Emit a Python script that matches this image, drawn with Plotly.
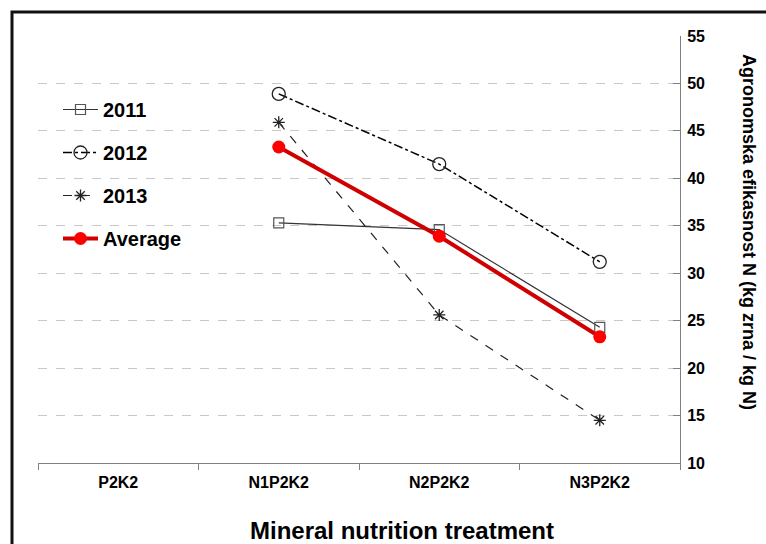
import plotly.graph_objects as go

categories = ["P2K2", "N1P2K2", "N2P2K2", "N3P2K2"]
y2011 = [None, 35.3, 34.6, 24.3]
y2012 = [None, 48.9, 41.5, 31.2]
y2013 = [None, 45.9, 25.6, 14.5]
avg = [None, 43.3, 33.9, 23.3]
y_ticks = [10, 15, 20, 25, 30, 35, 40, 45, 50, 55]

FONT = "Liberation Sans, Arial, sans-serif"

fig = go.Figure()
fig.add_trace(go.Scatter(
    x=categories, y=y2011, name="2011", mode="lines+markers", legendgroup="a",
    line=dict(color="#333333", width=1.2),
    marker=dict(symbol="square-open", size=10, color="#555555", line=dict(width=1.2))))
fig.add_trace(go.Scatter(
    x=categories, y=y2012, name="2012", mode="lines+markers", legendgroup="b",
    line=dict(color="#000000", width=1.5, dash="dashdot"),
    marker=dict(symbol="circle-open", size=13, color="#222222", line=dict(width=1.3))))
fig.add_trace(go.Scatter(
    x=categories, y=y2013, name="2013", mode="lines+markers", legendgroup="c",
    line=dict(color="#222222", width=1.2, dash="dash"),
    marker=dict(symbol="asterisk-open", size=10, color="#222222", line=dict(width=1.3))))
fig.add_trace(go.Scatter(
    x=categories, y=avg, name="Average", mode="lines+markers", legendgroup="d",
    line=dict(color="#D00000", width=4),
    marker=dict(symbol="circle", size=13, color="#FF0000")))

L, R, T, B = 38, 86, 36, 81
W, H = 766, 544
PW, PH = W - L - R, H - T - B

def px(x):
    return (x - L) / PW

def py(y):
    return (H - B - y) / PH

fig.update_layout(
    width=W, height=H,
    margin=dict(l=L, r=R, t=T, b=B),
    paper_bgcolor="white", plot_bgcolor="white",
    font=dict(family=FONT, color="#000000"),
    showlegend=True,
    legend=dict(x=px(58), y=py(90), xanchor="left", yanchor="top",
                bgcolor="rgba(0,0,0,0)", tracegroupgap=14, itemwidth=35,
                font=dict(size=20, family=FONT, weight="bold")),
    xaxis=dict(type="category", categoryorder="array", categoryarray=categories,
               range=[-0.5, 3.5], tickson="boundaries", ticks="outside", ticklen=6,
               tickcolor="#808080", showline=True, linecolor="#808080", linewidth=1,
               showgrid=False, zeroline=False, ticklabelstandoff=5,
               tickfont=dict(size=16, family=FONT, weight="bold")),
    yaxis=dict(side="right", range=[10, 55], tickvals=y_ticks, ticks="inside", ticklen=7,
               tickcolor="#808080", showline=True, linecolor="#808080", linewidth=1,
               showgrid=True, gridcolor="#C8C8C8", griddash="dash", gridwidth=1,
               zeroline=False, ticklabelstandoff=3,
               tickfont=dict(size=16, family=FONT, weight="bold")),
    annotations=[
        dict(text="Agronomska efikasnost N (kg zrna / kg N)", xref="paper", yref="paper",
             x=px(749), y=py(232), xanchor="center", yanchor="middle",
             textangle=90, showarrow=False,
             font=dict(size=18, family=FONT, weight="bold")),
        dict(text="Mineral nutrition treatment", xref="paper", yref="paper",
             x=px(402), y=py(530), xanchor="center", yanchor="middle", showarrow=False,
             font=dict(size=24, family=FONT, weight="bold")),
    ],
    shapes=[
        dict(type="rect", xref="paper", yref="paper",
             x0=px(12), x1=px(800), y0=py(580), y1=py(12),
             line=dict(color="#111111", width=3), layer="below"),
    ],
)

fig.write_html("out.html", config={"displayModeBar": False},
               post_script="document.body.style.margin='0';")
